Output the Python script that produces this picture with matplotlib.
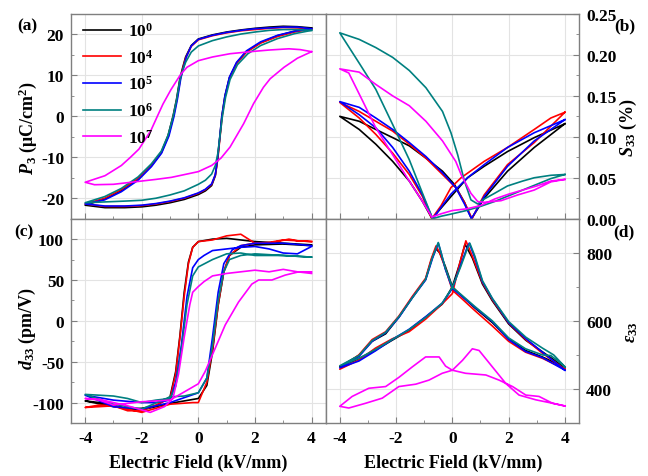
import matplotlib
matplotlib.use("Agg")
import matplotlib.pyplot as plt
from matplotlib.ticker import MultipleLocator, FormatStrFormatter

plt.rcParams['font.family'] = ['Liberation Serif', 'DejaVu Serif']
plt.rcParams['font.weight'] = 'bold'
plt.rcParams['axes.unicode_minus'] = False
plt.rcParams['mathtext.fontset'] = 'custom'
plt.rcParams['mathtext.rm'] = 'Liberation Serif:bold'
plt.rcParams['mathtext.it'] = 'Liberation Serif:italic:bold'
plt.rcParams['mathtext.bf'] = 'Liberation Serif:bold'

cycles = ["10$^{0}$", "10$^{4}$", "10$^{5}$", "10$^{6}$", "10$^{7}$"]
colors = ["black", "red", "blue", "#008080", "magenta"]

# ---- (a) P-E loops: field down 4 -> -4, then back up -4 -> 4
pe_E_1e0 = [4, 3.5, 3, 2.5, 2, 1.5, 1, 0.5, 0, -0.25, -0.45, -0.55, -0.65, -0.77, -0.89, -1.07, -1.31, -1.66, -2.13, -2.72, -3.31, -4,
            -3.3, -2.6, -2, -1.5, -1, -0.5, 0, 0.25, 0.47, 0.6, 0.68, 0.76, 0.83, 0.94, 1.1, 1.35, 1.7, 2.2, 2.8, 3.4, 4]
pe_P_1e0 = [21.6, 21.9, 22.0, 21.8, 21.5, 21.1, 20.6, 19.9, 18.9, 17.3, 14.5, 12.0, 9.3, 4.2, 0.2, -4.7, -8.8, -12.0, -15.3, -18.1, -20.2, -21.7,
            -22.3, -22.3, -22.1, -21.7, -21.1, -20.3, -19.1, -18.2, -16.9, -14.5, -10.5, -5.0, 0.0, 5.0, 9.5, 13.0, 15.8, 18.0, 19.7, 20.8, 21.6]
pe_E_1e4 = [4, 3.5, 3, 2.5, 2, 1.5, 1, 0.5, 0, -0.25, -0.45, -0.55, -0.64, -0.76, -0.88, -1.06, -1.3, -1.65, -2.13, -2.72, -3.31, -4,
            -3.3, -2.6, -2, -1.5, -1, -0.5, 0, 0.25, 0.47, 0.6, 0.69, 0.77, 0.84, 0.95, 1.11, 1.36, 1.7, 2.2, 2.8, 3.4, 4]
pe_P_1e4 = [21.3, 21.6, 21.7, 21.5, 21.2, 20.9, 20.4, 19.7, 18.7, 17.1, 14.2, 11.6, 9.0, 4.0, 0.0, -4.8, -8.8, -12.0, -15.2, -17.9, -20.0, -21.4,
            -22.0, -22.0, -21.8, -21.4, -20.8, -20.0, -18.8, -17.9, -16.6, -14.3, -10.2, -4.8, 0.0, 5.0, 9.5, 13.0, 15.7, 17.9, 19.5, 20.6, 21.3]
pe_E_1e5 = [4, 3.5, 3, 2.5, 2, 1.5, 1, 0.5, 0, -0.25, -0.42, -0.52, -0.62, -0.74, -0.86, -1.04, -1.3, -1.66, -2.13, -2.72, -3.31, -4,
            -3.3, -2.6, -2, -1.5, -1, -0.5, 0, 0.25, 0.47, 0.6, 0.68, 0.76, 0.83, 0.94, 1.1, 1.35, 1.7, 2.2, 2.8, 3.4, 4]
pe_P_1e5 = [21.4, 21.8, 21.8, 21.6, 21.4, 21.0, 20.5, 19.8, 18.8, 17.2, 14.6, 12.0, 9.3, 4.2, 0.0, -4.8, -9.0, -12.3, -15.6, -18.4, -20.4, -21.4,
            -21.9, -21.9, -21.7, -21.3, -20.7, -19.9, -18.7, -17.8, -16.5, -14.2, -10.2, -4.8, 0.0, 5.0, 9.6, 13.2, 16.0, 18.2, 19.8, 20.8, 21.4]
pe_E_1e6 = [4, 3.5, 3, 2.5, 2, 1.5, 1, 0.5, 0, -0.25, -0.45, -0.55, -0.65, -0.77, -0.89, -1.07, -1.31, -1.66, -2.13, -2.72, -3.31, -4,
            -3.3, -2.6, -2, -1.5, -1, -0.5, 0, 0.25, 0.47, 0.6, 0.69, 0.77, 0.85, 0.96, 1.12, 1.38, 1.75, 2.2, 2.8, 3.4, 4]
pe_P_1e6 = [21.0, 21.2, 21.2, 21.0, 20.6, 20.1, 19.4, 18.5, 17.2, 15.7, 13.2, 11.3, 9.0, 4.0, 0.0, -4.6, -8.5, -11.6, -14.8, -17.6, -19.6, -21.1,
            -20.9, -20.7, -20.5, -20.0, -19.2, -18.2, -16.6, -15.6, -14.1, -12.0, -9.0, -4.5, 0.0, 4.6, 9.0, 12.6, 15.3, 17.3, 19.0, 20.2, 21.0]
pe_E_1e7 = [4, 3.6, 3.2, 2.5, 2, 1.12, 0.5, 0, -0.4, -0.63, -0.97, -1.25, -1.45, -1.68, -2.1, -2.4, -2.72, -3.3, -4,
            -3.67, -3, -2.13, -1.5, -0.95, 0, 0.47, 0.8, 1.12, 1.6, 1.95, 2.3, 2.54, 3.03, 3.5, 4]
pe_P_1e7 = [15.8, 16.3, 16.5, 16.2, 15.9, 15.3, 14.5, 13.6, 12.0, 10.2, 6.5, 3.0, 0.0, -3.5, -8.0, -10.0, -12.0, -14.5, -16.1,
            -16.7, -16.6, -15.9, -15.4, -14.9, -13.5, -12.0, -10.2, -7.5, -1.8, 3.1, 7.1, 9.2, 12.0, 14.2, 15.8]

# ---- (b) S33 butterfly loops (%)
s_E_1e0 = [4, 2.91, 1.96, 1.13, 0.54, -0.05, -0.4, -0.72, -1.06, -1.53, -2.12, -2.72, -3.31, -4,
           -3.31, -2.72, -2.12, -1.53, -0.94, -0.35, 0.07, 0.43, 0.68, 0.9, 1.13, 1.96, 2.91, 4]
s_S_1e0 = [0.116, 0.099, 0.082, 0.064, 0.050, 0.027, 0.013, 0.0, 0.021, 0.046, 0.070, 0.091, 0.109, 0.125,
           0.119, 0.109, 0.099, 0.089, 0.074, 0.058, 0.042, 0.020, 0.0, 0.012, 0.025, 0.058, 0.087, 0.116]
s_E_1e4 = [4, 3.5, 2.91, 1.96, 1.13, 0.31, -0.05, -0.4, -0.73, -1.06, -1.53, -2.12, -2.72, -3.31, -4,
           -3.31, -2.72, -2.12, -1.53, -0.94, -0.35, 0.12, 0.43, 0.7, 0.9, 1.13, 1.96, 2.91, 4]
s_S_1e4 = [0.130, 0.123, 0.109, 0.087, 0.070, 0.050, 0.038, 0.016, 0.0, 0.027, 0.054, 0.080, 0.103, 0.123, 0.142,
           0.131, 0.119, 0.107, 0.091, 0.074, 0.054, 0.038, 0.020, 0.0, 0.014, 0.029, 0.066, 0.093, 0.130]
s_E_1e5 = [4, 2.91, 1.96, 1.13, 0.54, -0.05, -0.4, -0.7, -1.06, -1.53, -2.12, -2.72, -3.31, -4,
           -3.31, -2.72, -2.12, -1.53, -0.94, -0.35, 0.12, 0.43, 0.68, 0.9, 1.13, 1.96, 2.91, 4]
s_S_1e5 = [0.121, 0.105, 0.087, 0.066, 0.050, 0.030, 0.014, 0.0, 0.029, 0.058, 0.087, 0.111, 0.127, 0.143,
           0.136, 0.123, 0.109, 0.093, 0.076, 0.056, 0.038, 0.018, 0.0, 0.013, 0.027, 0.064, 0.095, 0.121]
s_E_1e6 = [4, 3.5, 3.0, 2.5, 2.0, 1.5, 1.0, 0.5, 0, -0.4, -0.7, -1.06, -1.53, -2.12, -2.72, -3.31, -4,
           -3.31, -2.72, -2.12, -1.53, -0.94, -0.35, -0.05, 0.19, 0.43, 0.66, 0.9, 1.13, 1.5, 1.96, 2.5, 2.91, 3.5, 4]
s_S_1e6 = [0.054, 0.049, 0.042, 0.035, 0.028, 0.021, 0.015, 0.010, 0.006, 0.003, 0.0, 0.031, 0.072, 0.115, 0.158, 0.190, 0.227,
           0.219, 0.209, 0.197, 0.181, 0.160, 0.131, 0.105, 0.078, 0.046, 0.023, 0.018, 0.024, 0.031, 0.040, 0.046, 0.050, 0.053, 0.054]
s_E_1e7 = [4, 3.5, 3.0, 2.5, 2.0, 1.5, 1.0, 0.5, 0, -0.4, -0.73, -1.06, -1.53, -2.12, -2.72, -3.19, -3.68, -4,
           -3.31, -2.72, -2.12, -1.53, -0.94, -0.35, 0.12, 0.31, 0.66, 0.9, 1.13, 1.73, 2.32, 2.91, 3.5, 4]
s_S_1e7 = [0.048, 0.046, 0.040, 0.035, 0.030, 0.024, 0.016, 0.012, 0.010, 0.006, 0.002, 0.021, 0.046, 0.078, 0.111, 0.144, 0.178, 0.183,
           0.179, 0.164, 0.150, 0.138, 0.119, 0.095, 0.070, 0.054, 0.031, 0.021, 0.020, 0.022, 0.029, 0.035, 0.045, 0.048]

# ---- (c) d33 loops (pm/V)
d_E_1e0 = [4, 3, 2, 1, 0.5, 0, -0.2, -0.35, -0.5, -0.65, -0.8, -1.0, -1.5, -2, -2.5, -3, -3.5, -4,
           -3, -2, -1, 0, 0.3, 0.5, 0.7, 0.9, 1.1, 1.5, 2, 3, 4]
d_d_1e0 = [93, 95, 97, 101, 100, 97, 90, 72, 35, -18, -62, -93, -104, -107, -108, -103, -100, -98,
           -105, -109, -101, -95, -79, -38, 19, 60, 80, 90, 93, 94, 92]
d_E_1e4 = [4, 3.5, 3.2, 2.5, 2, 1.5, 1, 0.5, 0, -0.2, -0.35, -0.5, -0.65, -0.8, -1.0, -1.5, -2, -2.5, -3, -3.5, -4,
           -3, -2, -1, -0.2, 0, 0, 0.3, 0.5, 0.7, 0.9, 1.1, 1.5, 2, 2.5, 3, 3.5, 4]
d_d_1e4 = [97, 98, 100, 95, 95, 106, 104, 99, 97, 90, 70, 30, -20, -65, -95, -103, -110, -110, -104, -103, -106,
           -104, -112, -102, -100, -100, -100, -75, -35, 20, 60, 80, 92, 95, 96, 99, 98, 97]
d_E_1e5 = [4, 3.5, 3, 2.5, 2, 1.5, 1, 0.5, 0.2, 0, -0.2, -0.4, -0.6, -0.8, -1, -1.5, -2, -3, -4,
           -3, -2, -1, 0, 0.3, 0.5, 0.7, 0.9, 1.2, 1.5, 2, 3, 4]
d_d_1e5 = [91, 82, 83, 88, 91, 90, 88, 86, 80, 75, 65, 30, -30, -75, -97, -100, -100, -97, -91,
           -105, -108, -100, -88, -70, -20, 35, 70, 87, 92, 95, 95, 92]
d_E_1e6 = [4, 3, 2, 1.5, 1, 0.5, 0, -0.2, -0.4, -0.6, -0.8, -1, -1.5, -2, -2.5, -3, -3.5, -4,
           -3, -2, -1, -0.5, 0, 0.3, 0.5, 0.7, 0.9, 1.1, 1.5, 2, 3, 4]
d_d_1e6 = [78, 80, 80, 83, 82, 75, 66, 55, 20, -35, -80, -95, -97, -100, -95, -92, -91, -90,
           -102, -108, -93, -92, -88, -70, -30, 25, 60, 75, 80, 82, 80, 78]
d_E_1e7 = [4, 3.5, 3, 2.5, 2, 1.5, 1, 0.5, 0.2, 0, -0.2, -0.3, -0.5, -0.7, -0.9, -1.2, -1.7, -2.5, -3.5, -4,
           -3.5, -3, -2, -1, 0, 0.24, 0.59, 0.95, 1.42, 1.89, 2.13, 2.6, 3.07, 3.55, 4]
d_d_1e7 = [58, 60, 63, 60, 62, 60, 58, 55, 48, 42, 35, 20, -20, -65, -95, -105, -112, -104, -96, -95,
           -97, -103, -99, -97, -77, -62, -34, -5, 23, 45, 50, 50, 56, 60, 60]

# ---- (d) eps33 butterfly loops
e_E_1e0 = [4, 3.2, 2.6, 2.0, 1.42, 0.8, 0.3, 0, -0.25, -0.45, -0.59, -0.75, -0.95, -1.42, -1.9, -2.37, -2.85, -3.32, -4,
           -3.32, -2.73, -2.14, -1.54, -0.95, -0.36, 0, 0.25, 0.45, 0.71, 1.07, 1.42, 2.0, 2.61, 3.2, 4]
e_e_1e0 = [463, 494, 513, 547, 595, 638, 676, 700, 760, 800, 812, 778, 722, 669, 611, 562, 540, 499, 465,
           489, 514, 543, 572, 611, 649, 700, 765, 825, 785, 708, 659, 591, 543, 509, 463]
e_E_1e4 = [4, 3.2, 2.6, 2.0, 1.42, 0.8, 0.3, 0, -0.25, -0.45, -0.58, -0.75, -0.95, -1.42, -1.9, -2.37, -2.85, -3.32, -4,
           -3.32, -2.73, -2.14, -1.54, -0.95, -0.36, 0, 0.25, 0.48, 0.71, 1.07, 1.42, 2.0, 2.61, 3.2, 4]
e_e_1e4 = [458, 490, 508, 540, 585, 630, 668, 690, 755, 800, 820, 782, 725, 672, 614, 568, 545, 500, 458,
           485, 520, 547, 568, 605, 650, 680, 765, 835, 790, 712, 662, 594, 545, 505, 458]
e_E_1e5 = [4, 3.2, 2.6, 2.0, 1.42, 0.8, 0.3, 0, -0.25, -0.4, -0.5, -0.7, -0.95, -1.42, -1.9, -2.37, -2.85, -3.32, -4,
           -3.32, -2.73, -2.14, -1.54, -0.95, -0.36, 0, 0.3, 0.5, 0.6, 0.8, 1.07, 1.42, 2.0, 2.61, 3.2, 4]
e_e_1e5 = [455, 492, 510, 545, 598, 640, 675, 695, 752, 800, 828, 785, 720, 668, 610, 565, 540, 495, 462,
           482, 512, 545, 575, 612, 652, 695, 765, 810, 828, 785, 715, 665, 595, 548, 508, 455]
e_E_1e6 = [4, 3.5, 3.2, 2.6, 2.0, 1.42, 0.8, 0.3, 0, -0.25, -0.4, -0.5, -0.7, -0.95, -1.42, -1.9, -2.37, -2.85, -3.32, -4,
           -3.32, -2.73, -2.14, -1.54, -0.95, -0.36, 0, 0.3, 0.5, 0.62, 0.8, 1.07, 1.42, 2.0, 2.61, 3.2, 3.6, 4]
e_e_1e6 = [465, 498, 500, 518, 550, 600, 642, 678, 698, 755, 800, 830, 788, 722, 668, 612, 566, 542, 498, 468,
           490, 516, 545, 574, 610, 652, 698, 760, 805, 828, 790, 718, 666, 598, 552, 520, 500, 465]
e_E_1e7 = [4, 3.56, 3.08, 2.61, 2.14, 1.66, 1.19, 0.47, 0, -0.24, -0.47, -0.95, -1.42, -1.9, -2.37, -2.97, -3.56, -4,
           -3.68, -3.08, -2.49, -1.9, -1.3, -0.83, -0.36, 0, 0.36, 0.71, 0.95, 1.42, 1.9, 2.37, 2.97, 3.56, 4]
e_e_1e7 = [350, 358, 378, 382, 407, 426, 441, 446, 455, 467, 494, 494, 465, 434, 407, 402, 378, 349,
           344, 358, 373, 407, 414, 426, 446, 455, 484, 518, 513, 465, 416, 382, 368, 358, 350]

pe_loops = [(pe_E_1e0, pe_P_1e0), (pe_E_1e4, pe_P_1e4), (pe_E_1e5, pe_P_1e5), (pe_E_1e6, pe_P_1e6), (pe_E_1e7, pe_P_1e7)]
s_loops = [(s_E_1e0, s_S_1e0), (s_E_1e4, s_S_1e4), (s_E_1e5, s_S_1e5), (s_E_1e6, s_S_1e6), (s_E_1e7, s_S_1e7)]
d_loops = [(d_E_1e0, d_d_1e0), (d_E_1e4, d_d_1e4), (d_E_1e5, d_d_1e5), (d_E_1e6, d_d_1e6), (d_E_1e7, d_d_1e7)]
e_loops = [(e_E_1e0, e_e_1e0), (e_E_1e4, e_e_1e4), (e_E_1e5, e_e_1e5), (e_E_1e6, e_e_1e6), (e_E_1e7, e_e_1e7)]

fig = plt.figure(figsize=(6.48, 4.77), dpi=100)
W, H = 648, 477
def box(x0, y0, x1, y1):
    return [x0 / W, 1 - y1 / H, (x1 - x0) / W, (y1 - y0) / H]

ax_a = fig.add_axes(box(71, 15, 325.7, 219.7))
ax_b = fig.add_axes(box(325.7, 15, 579, 219.7))
ax_c = fig.add_axes(box(71, 219.7, 325.7, 424))
ax_d = fig.add_axes(box(325.7, 219.7, 579, 424))

gray = "#7f7f7f"
for ax, loops in [(ax_a, pe_loops), (ax_b, s_loops), (ax_c, d_loops), (ax_d, e_loops)]:
    for (x, y), c, lab in zip(loops, colors, cycles):
        ax.plot(x, y, color=c, lw=1.2, label=lab)
    ax.set_xlim(-4.5, 4.5)
    ax.xaxis.set_major_locator(MultipleLocator(2))
    ax.xaxis.set_minor_locator(MultipleLocator(1))
    ax.grid(True, which='major', color="#e3e3e3", lw=0.8)
    ax.set_axisbelow(True)
    for s in ax.spines.values():
        s.set_color(gray)
        s.set_linewidth(1.0)
    ax.tick_params(which='both', direction='in', color=gray, labelsize=12.5, top=False)
    ax.tick_params(which='major', length=4, pad=5)
    ax.tick_params(which='minor', length=2)

ax_a.set_ylim(-25, 25)
ax_a.yaxis.set_major_locator(MultipleLocator(10))
ax_a.yaxis.set_minor_locator(MultipleLocator(5))
ax_b.set_ylim(0, 0.25)
ax_b.yaxis.set_major_locator(MultipleLocator(0.05))
ax_b.yaxis.set_minor_locator(MultipleLocator(0.025))
ax_b.yaxis.set_major_formatter(FormatStrFormatter('%.2f'))
ax_c.set_ylim(-125, 125)
ax_c.yaxis.set_major_locator(MultipleLocator(50))
ax_c.yaxis.set_minor_locator(MultipleLocator(25))
ax_d.set_ylim(300, 900)
ax_d.yaxis.set_major_locator(MultipleLocator(200))
ax_d.yaxis.set_minor_locator(MultipleLocator(100))

for ax in (ax_a, ax_b):
    ax.tick_params(labelbottom=False)
for ax in (ax_b, ax_d):
    ax.yaxis.tick_right()
    ax.tick_params(which='both', left=False)

ax_a.legend(loc='upper left', bbox_to_anchor=(0.0, 1.02), frameon=False, fontsize=12.5,
            handlelength=2.2, labelspacing=0.5, handletextpad=0.4, borderaxespad=0.3)

fig.text(198, H - 463, "Electric Field (kV/mm)", fontsize=13, ha='center', va='center', transform=None)
fig.text(453, H - 463, "Electric Field (kV/mm)", fontsize=13, ha='center', va='center', transform=None)
fig.text(28, H - 128, "$P_{3}$ (μC/cm$^{2}$)", fontsize=13, rotation=90, ha='center', va='center', transform=None)
fig.text(27, H - 329, "$d_{33}$ (pm/V)", fontsize=13, rotation=90, ha='center', va='center', transform=None)
fig.text(628, H - 128, "$S_{33}$ (%)", fontsize=13, rotation=90, ha='center', va='center', transform=None)
fig.text(631, H - 332, r"$\varepsilon_{33}$", fontsize=13, rotation=90, ha='center', va='center', transform=None)

fig.text(27, H - 26, "(a)", fontsize=12.5, ha='center', va='center', transform=None)
fig.text(625, H - 26, "(b)", fontsize=12.5, ha='center', va='center', transform=None)
fig.text(24, H - 232, "(c)", fontsize=12.5, ha='center', va='center', transform=None)
fig.text(624, H - 232, "(d)", fontsize=12.5, ha='center', va='center', transform=None)

fig.savefig("out.png", dpi=100)
